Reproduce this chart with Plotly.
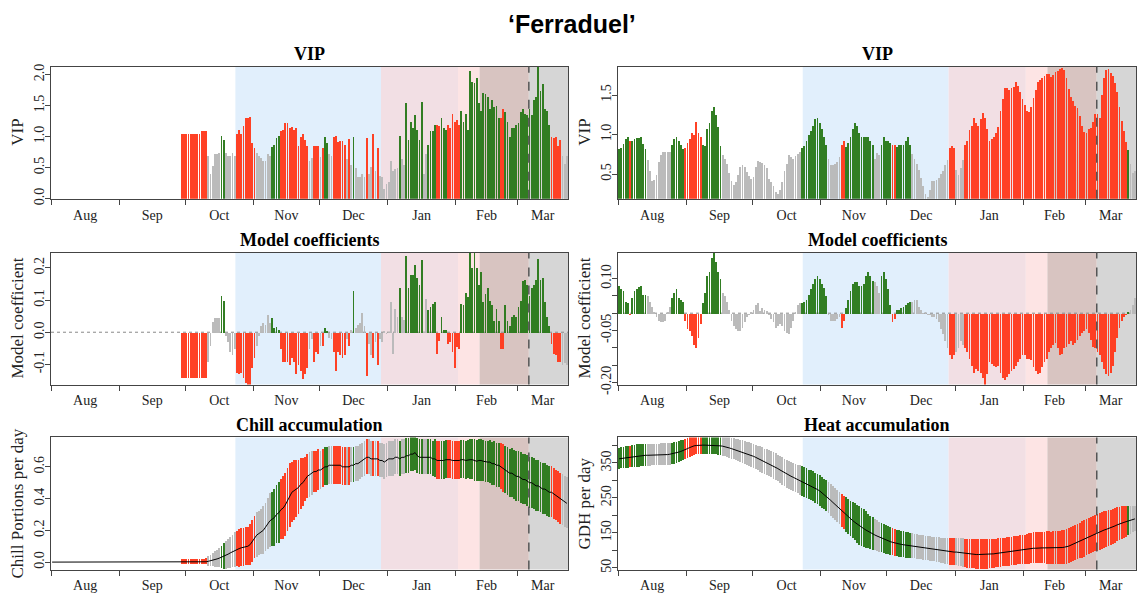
import plotly.graph_objects as go

# ---------------- data ----------------
N_DAYS = 235                      # daily values, 1 Aug .. 23 Mar
days = list(range(N_DAYS))
month_starts = [0, 31, 61, 92, 122, 153, 184, 212]
month_labels = ["Aug", "Sep", "Oct", "Nov", "Dec", "Jan", "Feb", "Mar"]

# phase boundaries (day index): chilling start, forcing start, ..., bloom window
phase_edges = [83.3, 149.5, 184.5, 194.3, 216.7, 234.5]
bloom_mean = 216.7

# ---- Chill model (left column) ----
vip_chill = [None] * 59 + [
    1.05, 1.05, 1.05, 1.05, 1.05, 1.05, 1.05, 1.05, 1.05,
    1.10, 1.10, 1.10,
    0.70, 0.40, 0.53, 0.72, 0.73, 0.74, 1.01, 0.95, 0.75, 0.70,
    0.70, 0.75, 0.70, 1.05, 1.12, 1.05, 1.18, 1.30, 1.30, 1.33,
    0.90, 0.83, 0.75, 0.70, 0.66, 0.62, 0.62, 0.72, 0.70, 0.84,
    0.87, 0.98, 1.02, 1.10, 1.12, 1.22, 1.23, 1.15, 1.16, 1.12,
    1.14, 0.86, 1.00, 1.05, 0.95, 0.85, 0.62, 0.66, 0.85, 0.86,
    0.85, 0.68, 0.82, 1.00, 0.90, 0.72, 0.70, 1.00, 1.02, 0.92,
    0.93, 0.93, 0.88, 0.65, 0.97, 0.55, 1.00, 0.50, 0.35, 0.36,
    0.40, 0.35, 0.98, 0.40, 0.52, 1.05, 0.45, 0.83, 0.38, 0.35,
    0.17, 0.25, 0.27, 0.62, 0.45, 0.48, 0.50, 1.02, 0.64, 0.55,
    1.55, 0.95, 1.25, 1.15, 1.35, 1.12, 0.95, 1.57, 0.40, 0.72,
    0.88, 1.10, 1.10, 1.20, 1.20, 1.18, 1.30, 1.15, 1.12, 1.20,
    1.15, 1.38, 1.25, 1.27, 1.20, 1.42, 1.25, 1.38, 1.12, 2.06,
    1.89, 1.88, 1.95, 1.55, 1.42, 1.71, 1.70, 1.64, 1.45, 1.60,
    1.48, 1.50, 1.30, 1.30, 1.45, 1.40, 1.25, 1.00, 1.15, 1.15,
    1.20, 1.22, 1.40, 1.45, 1.38, 1.35, 1.45, 1.35, 1.60, 1.65,
    2.13, 1.75, 1.85, 1.45, 1.42, 1.20, 1.00, 0.98, 1.00, 0.85,
    0.95, 0.70, 0.57, 0.70]

coef_chill = [None] * 59 + [
    -0.14, -0.14, -0.14, -0.14, -0.14, -0.14, -0.14, -0.14, -0.14, -0.14, -0.14, -0.14,
    -0.09, -0.04, 0.034, 0.045, 0.045, 0.045, 0.115, 0.10, -0.01, -0.03,
    -0.06, -0.07, -0.05, -0.125, -0.13, -0.125, -0.14, -0.155, -0.163, -0.163,
    -0.11, -0.08, -0.04, -0.01, 0.02, 0.03, 0.025, 0.055, 0.03, 0.045,
    0.015, 0.018, 0.008, -0.05, -0.09, -0.09, -0.09, -0.10, -0.08, -0.09,
    -0.13, -0.10, -0.12, -0.145, -0.13, -0.11, -0.05, -0.02, -0.09, -0.06,
    -0.065, -0.04, -0.04, 0.015, 0.005, -0.015, -0.02, -0.06, -0.12, -0.06,
    -0.07, -0.08, -0.07, -0.02, -0.04, 0.01, 0.13, 0.015, 0.025, 0.03,
    0.06, 0.02, -0.135, -0.035, -0.07, -0.08, -0.03, -0.10, -0.02, -0.03,
    0.005, -0.005, 0.002, 0.095, -0.065, 0.075, 0.05, 0.14, 0.05, 0.04,
    0.24, 0.14, 0.18, 0.18, 0.21, 0.17, 0.15, 0.225, 0.003, 0.105,
    0.07, 0.08, 0.09, 0.095, -0.065, -0.025, 0.05, 0.01, 0.01, -0.035,
    -0.03, -0.06, -0.11, -0.045, -0.05, 0.09, 0.085, 0.125, 0.11, 0.25,
    0.20, 0.25, 0.20, 0.15, 0.19, 0.095, 0.12, 0.14, 0.10, 0.085,
    0.035, 0.075, 0.035, -0.05, -0.05, 0.085, 0.035, 0.02, 0.05, 0.055,
    0.05, 0.08, 0.10, 0.16, 0.165, 0.15, 0.115, 0.14, 0.15, 0.165,
    0.23, 0.165, 0.17, 0.095, 0.05, 0.02, -0.035, -0.065, -0.07, -0.09,
    -0.09, -0.10, -0.095, -0.10]

chill_mean = [0.0] * 70 + [
    0.002, 0.005, 0.008, 0.012, 0.016, 0.02, 0.025, 0.03, 0.036, 0.042,
    0.05, 0.058, 0.066, 0.074, 0.08, 0.085, 0.09, 0.094, 0.097, 0.10,
    0.11, 0.13, 0.155, 0.17, 0.18, 0.19, 0.20, 0.22, 0.24, 0.26,
    0.27, 0.28, 0.30, 0.31, 0.33, 0.34, 0.36, 0.39, 0.42, 0.44,
    0.45, 0.46, 0.47, 0.49, 0.50, 0.52, 0.54, 0.55, 0.56, 0.57,
    0.57, 0.58, 0.58, 0.59, 0.60, 0.60, 0.61, 0.61, 0.61, 0.61,
    0.61, 0.61, 0.60, 0.60, 0.60, 0.60, 0.61, 0.61, 0.62, 0.62,
    0.63, 0.64, 0.65, 0.66, 0.66, 0.65, 0.65, 0.65, 0.65, 0.64,
    0.64, 0.63, 0.64, 0.65, 0.65, 0.65, 0.66, 0.66, 0.65, 0.66,
    0.66, 0.67, 0.67, 0.68, 0.68, 0.69, 0.67, 0.66, 0.66, 0.66,
    0.66, 0.66, 0.66, 0.65, 0.65, 0.64, 0.64, 0.64, 0.64, 0.645,
    0.645, 0.645, 0.64, 0.64, 0.64, 0.64, 0.645, 0.645, 0.64, 0.645,
    0.645, 0.645, 0.64, 0.635, 0.64, 0.64, 0.635, 0.63, 0.63, 0.63,
    0.62, 0.62, 0.61, 0.61, 0.60, 0.59, 0.58, 0.57, 0.56, 0.56,
    0.55, 0.54, 0.54, 0.53, 0.52, 0.52, 0.51, 0.50, 0.50, 0.49,
    0.48, 0.48, 0.47, 0.46, 0.46, 0.45, 0.44, 0.44, 0.43, 0.42,
    0.41, 0.40, 0.39, 0.38, 0.37]

chill_sd = [0.0] * 59 + [0.015] * 11 + [
    0.02, 0.03, 0.035, 0.04, 0.05, 0.055, 0.06, 0.07, 0.08, 0.09,
    0.09, 0.10, 0.10, 0.11, 0.11, 0.12, 0.12, 0.12, 0.12, 0.12,
    0.13, 0.13, 0.13, 0.14, 0.14, 0.14, 0.15, 0.15, 0.16, 0.17,
    0.17, 0.18, 0.18, 0.19, 0.19, 0.20, 0.20, 0.20, 0.20, 0.19,
    0.19, 0.18, 0.17, 0.16, 0.15, 0.14, 0.14, 0.14, 0.14, 0.13,
    0.13, 0.13, 0.12, 0.12, 0.12, 0.12, 0.12, 0.12, 0.12, 0.12,
    0.12, 0.12, 0.12, 0.12, 0.12, 0.12, 0.11, 0.11, 0.11, 0.11,
    0.11, 0.11, 0.11, 0.11, 0.11, 0.11, 0.11, 0.11, 0.11, 0.11,
    0.11, 0.11, 0.11, 0.11, 0.11, 0.11, 0.11, 0.11, 0.11, 0.11,
    0.11, 0.11, 0.11, 0.11, 0.11, 0.11, 0.11, 0.11, 0.11, 0.11,
    0.11, 0.11, 0.11, 0.11, 0.12, 0.12, 0.12, 0.12, 0.12, 0.12,
    0.12, 0.12, 0.12, 0.12, 0.12, 0.12, 0.12, 0.12, 0.12, 0.12,
    0.125, 0.125, 0.13, 0.13, 0.13, 0.13, 0.13, 0.13, 0.13, 0.135,
    0.135, 0.14, 0.14, 0.14, 0.145, 0.15, 0.15, 0.15, 0.15, 0.155,
    0.155, 0.16, 0.16, 0.16, 0.16, 0.16, 0.16, 0.16, 0.16, 0.16,
    0.16, 0.16, 0.16, 0.16, 0.16, 0.16, 0.16, 0.16, 0.16, 0.16,
    0.16, 0.16, 0.16, 0.16, 0.16]

# ---- Heat model (right column) ----
vip_heat = [
    0.82, 0.84, 0.89, 0.95, 0.97, 0.93, 0.93, 0.95, 0.96, 0.96,
    0.98, 0.89, 0.82, 0.68, 0.55, 0.42, 0.43, 0.50, 0.66, 0.75,
    0.78, 0.78, 0.78, 0.79, 0.88, 0.95, 0.98, 0.93, 0.88, 0.82,
    0.83, 0.90, 0.95, 1.02, 1.00, 1.16, 1.02, 0.98, 0.87, 0.86,
    1.07, 1.15, 1.30, 1.35, 1.25, 1.10, 0.86, 0.75, 0.70, 0.63,
    0.52, 0.42, 0.37, 0.40, 0.50, 0.60, 0.62, 0.60, 0.53, 0.48,
    0.44, 0.47, 0.60, 0.67, 0.66, 0.65, 0.62, 0.58, 0.45, 0.40,
    0.35, 0.28, 0.26, 0.30, 0.40, 0.55, 0.64, 0.75, 0.72, 0.70,
    0.73, 0.76, 0.78, 0.83, 0.86, 0.92, 1.00, 1.05, 1.12, 1.20,
    1.22, 1.15, 1.07, 0.97, 0.88, 0.70, 0.62, 0.62, 0.64, 0.66,
    0.72, 0.87, 0.92, 0.85, 0.90, 0.97, 1.07, 1.15, 1.12, 1.02,
    0.98, 0.97, 0.97, 0.98, 0.93, 0.88, 0.70, 0.77, 0.75, 0.88,
    0.98, 0.93, 0.92, 0.90, 0.88, 0.88, 0.85, 0.87, 0.87, 0.87,
    0.93, 0.97, 0.88, 0.76, 0.70, 0.64, 0.56, 0.46, 0.35, 0.25,
    0.22, 0.30, 0.42, 0.42, 0.43, 0.46, 0.51, 0.55, 0.62, 0.68,
    0.84, 0.86, 0.84, 0.56, 0.50, 0.58, 0.68, 0.88, 0.92, 1.06,
    1.12, 1.22, 1.15, 1.12, 1.20, 1.28, 1.22, 1.08, 0.92, 0.95,
    0.98, 1.03, 1.10, 1.30, 1.45, 1.60, 1.60, 1.57, 1.59, 1.61,
    1.67, 1.62, 1.54, 1.45, 1.38, 1.30, 1.29, 1.36, 1.47, 1.57,
    1.67, 1.69, 1.72, 1.74, 1.77, 1.77, 1.73, 1.76, 1.80, 1.81,
    1.84, 1.85, 1.82, 1.72, 1.58, 1.48, 1.43, 1.37, 1.34, 1.24,
    1.12, 1.04, 1.02, 1.07, 1.09, 1.17, 1.27, 1.26, 1.22, 1.51,
    1.72, 1.82, 1.84, 1.79, 1.75, 1.66, 1.55, 1.35, 1.18, 1.05,
    0.91, 0.81, 0.64, 0.52, 0.55]

coef_heat = [
    0.08, 0.07, 0.065, 0.035, 0.03, -0.005, 0.045, 0.065, 0.072, 0.078,
    0.08, 0.055, 0.055, 0.05, 0.035, 0.02, 0.005, -0.01, -0.02, -0.025,
    -0.025, -0.02, 0.005, 0.02, 0.045, 0.06, 0.07, 0.045, 0.04, 0.035,
    -0.02, -0.045, -0.05, -0.065, -0.09, -0.10, -0.07, -0.03, 0.03, 0.06,
    0.11, 0.12, 0.16, 0.175, 0.15, 0.12, 0.10, 0.06, 0.05, 0.035,
    0.01, -0.02, -0.035, -0.045, -0.05, -0.05, -0.04, -0.025, -0.01, -0.005,
    0.005, 0.01, 0.025, 0.03, 0.008, 0.015, 0.01, 0.008, -0.005, -0.015,
    -0.025, -0.04, -0.035, -0.03, -0.035, -0.05, -0.055, -0.06, -0.04, -0.02,
    0.005, 0.025, 0.03, 0.03, 0.035, 0.04, 0.055, 0.07, 0.085, 0.10,
    0.11, 0.10, 0.085, 0.075, 0.05, -0.005, -0.02, -0.02, -0.02, -0.015,
    -0.01, -0.04, -0.02, 0.015, 0.04, 0.065, 0.085, 0.09, 0.09, 0.08,
    0.08, 0.085, 0.11, 0.12, 0.11, 0.095, 0.09, 0.08, 0.06, 0.11,
    0.12, 0.10, 0.07, 0.025, -0.025, -0.015, 0.01, 0.01, 0.015, 0.02,
    0.025, 0.03, 0.035, 0.035, 0.04, 0.04, 0.02, 0.01, 0.002, 0.005,
    -0.003, -0.005, -0.01, -0.01, -0.015, -0.025, -0.045, -0.058, -0.08, -0.10,
    -0.12, -0.13, -0.12, -0.11, -0.10, -0.08, -0.09, -0.10, -0.11, -0.13,
    -0.15, -0.17, -0.16, -0.165, -0.17, -0.185, -0.205, -0.175, -0.14, -0.145,
    -0.15, -0.155, -0.15, -0.17, -0.185, -0.19, -0.182, -0.175, -0.165, -0.16,
    -0.15, -0.14, -0.13, -0.12, -0.12, -0.13, -0.13, -0.135, -0.155, -0.165,
    -0.175, -0.17, -0.155, -0.14, -0.13, -0.11, -0.10, -0.09, -0.085, -0.10,
    -0.12, -0.115, -0.10, -0.095, -0.088, -0.08, -0.09, -0.085, -0.075, -0.065,
    -0.055, -0.05, -0.045, -0.055, -0.075, -0.095, -0.10, -0.11, -0.12, -0.14,
    -0.16, -0.175, -0.18, -0.172, -0.15, -0.11, -0.07, -0.04, -0.02, -0.01,
    -0.005, 0.005, 0.01, 0.025, 0.045]

heat_mean = [
    362, 363, 364, 365, 366, 367, 368, 369, 370, 370,
    371, 371, 372, 372, 372, 373, 373, 373, 373, 374,
    374, 374, 374, 375, 376, 377, 379, 381, 383, 385,
    388, 391, 394, 397, 399, 400, 401, 401, 401, 401,
    401, 401, 401, 400, 400, 399, 399, 398, 397, 395,
    393, 391, 389, 387, 385, 383, 381, 379, 377, 375,
    372, 369, 366, 363, 360, 357, 354, 351, 348, 345,
    342, 338, 334, 330, 326, 322, 318, 315, 312, 309,
    306, 303, 300, 297, 294, 291, 288, 285, 282, 278,
    274, 270, 265, 260, 255, 249, 243, 237, 231, 225,
    219, 213, 207, 201, 196, 190, 185, 180, 175, 170,
    166, 162, 158, 154, 150, 147, 144, 141, 138, 135,
    132, 129, 127, 125, 123, 121, 120, 118, 117, 116,
    115, 114, 113, 112, 111, 110, 109, 108, 107, 106,
    105, 104, 103, 102, 101, 100, 99, 98, 97, 96,
    96, 96, 95, 95, 94, 93, 92, 91, 90, 90,
    89, 89, 88, 88, 88, 88, 88, 88, 89, 89,
    90, 91, 92, 93, 94, 94, 95, 96, 97, 98,
    99, 100, 101, 101, 102, 103, 104, 105, 106, 106,
    107, 107, 107, 107, 107, 107, 106, 106, 106, 106,
    107, 108, 109, 110, 112, 115, 118, 121, 124, 127,
    130, 133, 136, 139, 142, 145, 148, 150, 153, 155,
    158, 160, 162, 164, 167, 170, 173, 176, 178, 180,
    182, 184, 186, 188, 190]

heat_sd = [
    30, 30, 31, 31, 31, 31, 32, 32, 32, 32,
    32, 32, 32, 31, 31, 31, 31, 31, 31, 31,
    31, 31, 31, 31, 31, 31, 30, 30, 30, 29,
    29, 28, 28, 28, 27, 27, 27, 26, 26, 26,
    26, 26, 26, 26, 27, 27, 27, 28, 28, 29,
    29, 30, 30, 31, 31, 32, 32, 33, 33, 34,
    34, 35, 35, 35, 36, 36, 36, 37, 37, 37,
    38, 38, 38, 39, 39, 39, 40, 40, 40, 41,
    41, 41, 42, 42, 42, 42, 42, 43, 43, 43,
    43, 43, 44, 44, 44, 44, 45, 45, 45, 46,
    46, 47, 48, 49, 50, 51, 52, 53, 54, 55,
    55, 54, 52, 50, 48, 46, 45, 44, 43, 42,
    42, 41, 40, 40, 39, 39, 38, 38, 37, 37,
    37, 36, 36, 36, 35, 35, 35, 35, 35, 35,
    35, 35, 35, 35, 35, 36, 36, 36, 37, 37,
    38, 38, 39, 39, 40, 40, 41, 41, 42, 42,
    42, 42, 42, 42, 42, 42, 42, 42, 41, 41,
    41, 41, 41, 41, 41, 41, 41, 41, 41, 41,
    41, 41, 42, 42, 42, 43, 43, 43, 44, 44,
    44, 45, 45, 45, 46, 46, 46, 47, 47, 47,
    48, 48, 49, 49, 50, 50, 50, 51, 51, 51,
    52, 52, 52, 52, 52, 52, 52, 52, 52, 52,
    52, 52, 51, 51, 50, 50, 49, 48, 47, 46,
    44, 42, 40, 38, 36]

# ---------------- styling ----------------
# slightly translucent colours make plotly round bar edges instead of widening thin bars
RED = "rgba(255,59,30,0.97)"
GREEN = "rgba(43,122,28,0.97)"
GREY = "rgba(185,185,185,0.97)"
VIP_THRESHOLD = 0.8
PHASE_COLORS = ["#e1effc", "#f2dfe4", "#fde4e4", "#d8c4c1", "#d6d6d6"]
SERIF = "Liberation Serif"
W, H = 1144, 605

# pixel layout of the panel boxes
COLS = [(51, 568), (618, 1136)]
ROWS = [(65, 200), (255, 390), (444, 579)]


def imp_colors(vip, coef):
    out = []
    for v, c in zip(vip, coef):
        if v is None or c is None or v < VIP_THRESHOLD:
            out.append(GREY)
        elif c > 0:
            out.append(GREEN)
        else:
            out.append(RED)
    return out


col_chill = imp_colors(vip_chill, coef_chill)
col_heat = imp_colors(vip_heat, coef_heat)

fig = go.Figure()
BAR_W = 0.82

panels = {
    1: dict(r=0, c=0), 2: dict(r=0, c=1),
    3: dict(r=1, c=0), 4: dict(r=1, c=1),
    5: dict(r=2, c=0), 6: dict(r=2, c=1),
}


def ax(n, s):
    return s if n == 1 else f"{s}{n}"


# traces
fig.add_trace(go.Bar(x=days, y=vip_chill, marker=dict(color=col_chill, line=dict(width=0)),
                     width=BAR_W, xaxis="x", yaxis="y"))
fig.add_trace(go.Bar(x=days, y=vip_heat, marker=dict(color=col_heat, line=dict(width=0)),
                     width=BAR_W, xaxis="x2", yaxis="y2"))
fig.add_trace(go.Bar(x=days, y=coef_chill, marker=dict(color=col_chill, line=dict(width=0)),
                     width=BAR_W, xaxis="x3", yaxis="y3"))
fig.add_trace(go.Bar(x=days, y=coef_heat, marker=dict(color=col_heat, line=dict(width=0)),
                     width=BAR_W, xaxis="x4", yaxis="y4"))
fig.add_trace(go.Bar(x=days, y=[2 * s for s in chill_sd],
                     base=[m - s for m, s in zip(chill_mean, chill_sd)],
                     marker=dict(color=col_chill, line=dict(width=0)),
                     width=BAR_W, xaxis="x5", yaxis="y5"))
fig.add_trace(go.Scatter(x=days, y=chill_mean, mode="lines",
                         line=dict(color="black", width=1), xaxis="x5", yaxis="y5"))
fig.add_trace(go.Bar(x=days, y=[2 * s for s in heat_sd],
                     base=[m - s for m, s in zip(heat_mean, heat_sd)],
                     marker=dict(color=col_heat, line=dict(width=0)),
                     width=BAR_W, xaxis="x6", yaxis="y6"))
fig.add_trace(go.Scatter(x=days, y=heat_mean, mode="lines",
                         line=dict(color="black", width=1), xaxis="x6", yaxis="y6"))

# axes
ybase = {
    1: dict(range=[0, 2.13], tickvals=[0, 0.5, 1.0, 1.5, 2.0],
            ticktext=["0.0", "0.5", "1.0", "1.5", "2.0"]),
    2: dict(range=[0.19, 1.86], tickvals=[0.5, 1.0, 1.5], ticktext=["0.5", "1.0", "1.5"]),
    3: dict(range=[-0.163, 0.248], tickvals=[-0.1, 0, 0.1, 0.2],
            ticktext=["-0.1", "0.0", "0.1", "0.2"]),
    4: dict(range=[-0.206, 0.175],
            tickvals=[-0.20, -0.15, -0.10, -0.05, 0.0, 0.05, 0.10],
            ticktext=["-0.20", "", "", "-0.05", "", "", "0.10"]),
    5: dict(range=[-0.047, 0.785], tickvals=[0, 0.2, 0.4, 0.6],
            ticktext=["0.0", "0.2", "0.4", "0.6"]),
    6: dict(range=[45, 423], tickvals=[50, 100, 150, 200, 250, 300, 350, 400],
            ticktext=["50", "", "150", "", "250", "", "350", ""]),
}

month_ends = month_starts[1:] + [N_DAYS]
label_pos = [(a + b) / 2 - 0.5 for a, b in zip(month_starts, month_ends)]
tick_pos = [m - 0.5 for m in month_starts]

layout_axes = {}
for n, p in panels.items():
    x0, x1 = COLS[p["c"]]
    y0, y1 = ROWS[p["r"]]
    layout_axes[ax(n, "xaxis")] = dict(
        domain=[x0 / W, x1 / W], anchor=ax(n, "y"), range=[-0.5, N_DAYS - 0.5],
        tickmode="array", tickvals=label_pos, ticktext=month_labels, ticks="",
        ticklabelstandoff=3,
        minor=dict(tickmode="array", tickvals=tick_pos, ticks="outside", ticklen=5,
                   tickcolor="#444", tickwidth=1, showgrid=False),
        showline=True, mirror=True, linecolor="#444", linewidth=1,
        showgrid=False, zeroline=False, fixedrange=True,
        tickfont=dict(family=SERIF, size=14, color="#222"),
    )
    yb = ybase[n]
    layout_axes[ax(n, "yaxis")] = dict(
        domain=[1 - y1 / H, 1 - y0 / H], anchor=ax(n, "x"), range=yb["range"],
        tickmode="array", tickvals=yb["tickvals"], ticktext=yb["ticktext"],
        ticks="outside", ticklen=5, tickcolor="#444", tickangle=-90,
        ticklabelstandoff=-5,
        showline=True, mirror=True, linecolor="#444", linewidth=1,
        showgrid=False, zeroline=False, fixedrange=True,
        tickfont=dict(family=SERIF, size=14, color="#222"),
    )

# shapes: phase shading, bloom line, zero lines
shapes = []
for n in panels:
    xr, yr = ax(n, "x"), ax(n, "y")
    starts = phase_edges[:-1]
    ends = phase_edges[1:]
    for s, e, col in zip(starts, ends, PHASE_COLORS):
        shapes.append(dict(type="rect", xref=xr, yref=yr + " domain", x0=s, x1=e, y0=0, y1=1,
                           fillcolor=col, line=dict(width=0), layer="below"))
    if n in (3, 4):
        shapes.append(dict(type="line", xref=xr + " domain", yref=yr, x0=0, x1=1, y0=0, y1=0,
                           line=dict(color="#888", width=1, dash="dot"), layer="below"))
    shapes.append(dict(type="line", xref=xr, yref=yr + " domain", x0=bloom_mean, x1=bloom_mean,
                       y0=0, y1=1, line=dict(color="#555", width=1.5, dash="dash"), layer="above"))

# annotations: titles
annotations = [dict(text="<b>‘Ferraduel’</b>", x=0.5, y=1 - 21 / H, xref="paper", yref="paper",
                    showarrow=False, font=dict(family="Liberation Sans", size=25, color="black"),
                    xanchor="center", yanchor="middle")]
sub_titles = {1: "VIP", 2: "VIP", 3: "Model coefficients", 4: "Model coefficients",
              5: "Chill accumulation", 6: "Heat accumulation"}
title_y = [52.5, 242.5, 431.5]
for n, p in panels.items():
    x0, x1 = COLS[p["c"]]
    annotations.append(dict(text=f"<b>{sub_titles[n]}</b>", x=(x0 + x1) / 2 / W,
                            y=1 - title_y[p["r"]] / H, xref="paper", yref="paper",
                            showarrow=False, xanchor="center", yanchor="middle",
                            font=dict(family=SERIF, size=18, color="black")))
y_titles = {1: "VIP", 2: "VIP", 3: "Model coefficient", 4: "Model coefficient",
            5: "Chill Portions per day", 6: "GDH per day"}
ytitle_x = [18, 585]
for n, p in panels.items():
    y0, y1 = ROWS[p["r"]]
    annotations.append(dict(text=y_titles[n], x=ytitle_x[p["c"]] / W, y=1 - (y0 + y1) / 2 / H,
                            xref="paper", yref="paper", showarrow=False, textangle=-90,
                            xanchor="center", yanchor="middle",
                            font=dict(family=SERIF, size=17, color="#222")))

fig.update_layout(
    width=W, height=H, margin=dict(l=0, r=0, t=0, b=0),
    paper_bgcolor="white", plot_bgcolor="white", showlegend=False,
    bargap=0, shapes=shapes, annotations=annotations, **layout_axes,
)

fig.write_html("out.html")
